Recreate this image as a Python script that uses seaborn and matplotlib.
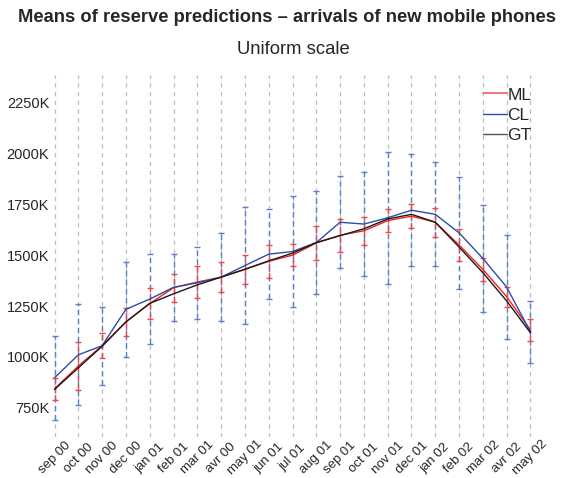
import numpy as np
import pandas as pd
import matplotlib
matplotlib.use("Agg")
import matplotlib.pyplot as plt
import seaborn as sns
from matplotlib.lines import Line2D

months = ['sep 00', 'oct 00', 'nov 00', 'dec 00', 'jan 01', 'feb 01', 'mar 01',
          'avr 00', 'may 01', 'jun 01', 'jul 01', 'aug 01', 'sep 01', 'oct 01',
          'nov 01', 'dec 01', 'jan 02', 'feb 02', 'mar 02', 'avr 02', 'may 02']

ml_mean = [843, 955, 1055, 1172, 1262, 1340, 1368, 1392, 1430, 1470, 1500,
           1560, 1598, 1620, 1670, 1692, 1662, 1550, 1430, 1296, 1132]
cl_mean = [897, 1010, 1055, 1234, 1284, 1342, 1364, 1392, 1449, 1505, 1518,
           1562, 1662, 1653, 1684, 1721, 1701, 1610, 1484, 1343, 1122]
gt_mean = [840, 946, 1052, 1172, 1263, 1310, 1354, 1392, 1431, 1472, 1510,
           1562, 1596, 1630, 1678, 1701, 1662, 1540, 1414, 1275, 1118]

ml_err = [54, 116, 62, 67, 78, 69, 80, 73, 70, 82, 53, 83, 82, 69, 58, 60,
          72, 78, 58, 49, 52]
cl_err = [205, 248, 192, 234, 222, 166, 177, 216, 289, 220, 275, 255, 225,
          256, 324, 276, 255, 275, 263, 254, 153]

yticks = [750, 1000, 1250, 1500, 1750, 2000, 2250]
ytick_labels = ['750K', '1000K', '1250K', '1500K', '1750K', '2000K', '2250K']

sns.set_style("white")
plt.rcParams['font.family'] = ['Liberation Sans', 'DejaVu Sans']

x = np.arange(len(months))
df = pd.DataFrame({
    'x': np.concatenate([x, x, x]),
    'value': ml_mean + cl_mean + gt_mean,
    'series': ['ML'] * len(x) + ['CL'] * len(x) + ['GT'] * len(x),
})

fig = plt.figure(figsize=(5.67, 4.78), dpi=100)
ax = fig.add_axes([45 / 567, 1 - 437 / 478, (540 - 45) / 567, (437 - 75) / 478])

# vertical dashed gridlines
for xi in x:
    ax.axvline(xi, color='#bdbdbd', lw=0.9, ls=(0, (3.5, 3.5)), zorder=0)

# error bars
eb_cl = ax.errorbar(x, cl_mean, yerr=cl_err, fmt='none', ecolor='#5b7fc9',
                    elinewidth=1.0, capsize=2.5, capthick=1.0, zorder=1)
eb_cl[2][0].set_linestyle((0, (4, 2.5)))
eb_ml = ax.errorbar(x, ml_mean, yerr=ml_err, fmt='none', ecolor='#f04848',
                    elinewidth=1.0, capsize=2.5, capthick=1.0, zorder=2)
eb_ml[2][0].set_linestyle((0, (4, 2.5)))

palette = {'ML': '#f02020', 'CL': '#2a4ea6', 'GT': '#1a1a1a'}
sns.lineplot(data=df, x='x', y='value', hue='series', palette=palette,
             hue_order=['ML', 'CL', 'GT'], lw=1.0, ax=ax, zorder=3,
             legend=False)

ax.set_xlim(-0.4, 20.4)
ax.set_ylim(606, 2386)
ax.set_yticks(yticks)
ax.set_yticklabels(ytick_labels, fontsize=10.5)
ax.set_xticks(x)
ax.set_xticklabels(months, rotation=45, ha='center', va='center',
                   rotation_mode='anchor', fontsize=9.5)
ax.tick_params(axis='both', length=0)
ax.tick_params(axis='y', pad=-3)
ax.tick_params(axis='x', pad=15)
ax.set_xlabel('')
ax.set_ylabel('')
for s in ax.spines.values():
    s.set_visible(False)

handles = [Line2D([], [], color='#f06060', lw=1.2),
           Line2D([], [], color='#2a4ea6', lw=1.0),
           Line2D([], [], color='#555555', lw=1.0)]
ax.legend(handles, ['ML', 'CL', 'GT'], loc='upper right', frameon=False,
          fontsize=12.5, handlelength=1.4, handletextpad=0.0,
          labelspacing=0.3, bbox_to_anchor=(0.997, 0.985), borderaxespad=0)

fig.text(287 / 567, 1 - 18 / 478, 'Means of reserve predictions \u2013 arrivals of new mobile phones',
         ha='center', va='center', fontsize=13.25, fontweight='bold')
fig.text(293 / 567, 1 - 50 / 478, 'Uniform scale', ha='center', va='center',
         fontsize=13.3)

fig.savefig('out.png', dpi=100)
